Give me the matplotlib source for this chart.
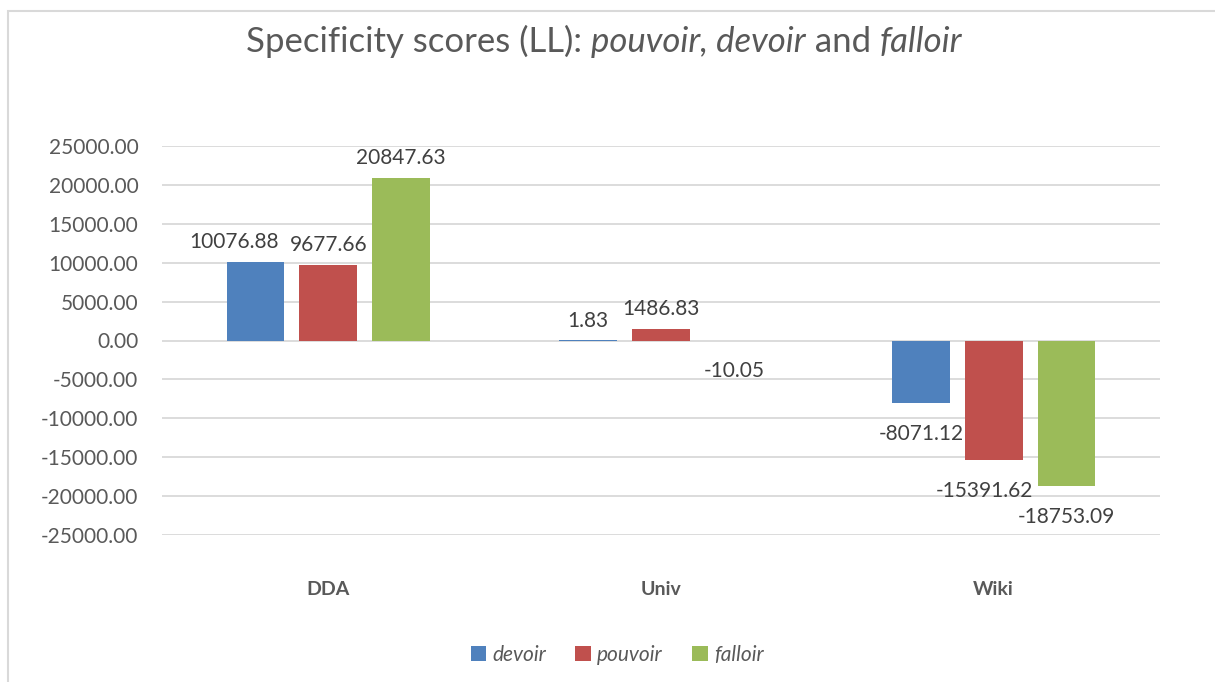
import numpy as np
import matplotlib
matplotlib.use("Agg")
import matplotlib.pyplot as plt
from matplotlib.patches import Rectangle

# data
categories = ["DDA", "Univ", "Wiki"]
series_names = ["devoir", "pouvoir", "falloir"]
devoir = [10076.88, 1.83, -8071.12]
pouvoir = [9677.66, 1486.83, -15391.62]
falloir = [20847.63, -10.05, -18753.09]
y_ticks = list(range(-25000, 25001, 5000))

colors = ["#4F81BD", "#C0504D", "#9BBB59"]
text_col = "#595959"
grid_col = "#D9D9D9"

plt.rcParams["font.family"] = ["Lato", "DejaVu Sans"]

fig = plt.figure(figsize=(12.15, 6.82), dpi=100)
ax = fig.add_axes([162 / 1215, 1 - 535 / 682, (1160 - 162) / 1215, (535 - 146) / 682])

x = np.arange(len(categories))
width = 0.174
step = 0.219
all_series = [devoir, pouvoir, falloir]

# small label nudges (pixels) where Excel shifted labels to avoid overlaps
nudge = {(0, 0): -21, (2, 1): -9}

for i, (name, vals) in enumerate(zip(series_names, all_series)):
    bars = ax.bar(x + (i - 1) * step, vals, width, color=colors[i],
                  linewidth=0, label=name, zorder=3)
    for j, (b, v) in enumerate(zip(bars, vals)):
        cx = b.get_x() + b.get_width() / 2
        dx = nudge.get((j, i), 0) * 0.72
        if v >= 0:
            ax.annotate(f"{v:.2f}", (cx, v), xytext=(dx, 10), textcoords="offset points",
                        ha="center", va="baseline", fontsize=15, color="#404040")
        else:
            ax.annotate(f"{v:.2f}", (cx, v), xytext=(dx, -15), textcoords="offset points",
                        ha="center", va="top", fontsize=15, color="#404040")

ax.set_xlim(-0.5, 2.5)
ax.set_ylim(-25000, 25000)
ax.set_yticks(y_ticks)
ax.yaxis.set_major_formatter(matplotlib.ticker.FormatStrFormatter("%.2f"))
ax.set_xticks(x)
ax.set_xticklabels(categories, fontweight="bold")
ax.tick_params(axis="y", length=0, pad=17, labelsize=15, labelcolor=text_col)
ax.tick_params(axis="x", length=0, pad=33, labelsize=14, labelcolor=text_col)
ax.grid(axis="y", color=grid_col, linewidth=1.3, zorder=0)
for s in ax.spines.values():
    s.set_visible(False)

# title made of upright and italic pieces, laid out side by side and centred
title_parts = [("Specificity scores (LL): ", "normal"), ("pouvoir, devoir", "italic"),
               (" and ", "normal"), ("falloir", "italic")]
renderer = fig.canvas.get_renderer()
pieces = []
for txt, style in title_parts:
    t = fig.text(0, 1 - 52 / 682, txt, fontsize=25, style=style, color=text_col,
                 ha="left", va="baseline")
    pieces.append((t, t.get_window_extent(renderer).width))
total = sum(w for _, w in pieces)
left = 604 - total / 2
for t, w in pieces:
    t.set_x(left / 1215)
    left += w

fig.legend(loc="center", bbox_to_anchor=(617 / 1215, 1 - 655 / 682), ncol=3,
           frameon=False, handlelength=0.75, handleheight=0.75, handletextpad=0.3,
           columnspacing=1.4, prop={"style": "italic", "size": 15}, labelcolor=text_col)

fig.patches.append(Rectangle((8 / 1215, -0.1), 1.2, 1.1 - 11 / 682, transform=fig.transFigure,
                             fill=False, edgecolor=grid_col, linewidth=1.5))

fig.savefig("out.png", dpi=100)
